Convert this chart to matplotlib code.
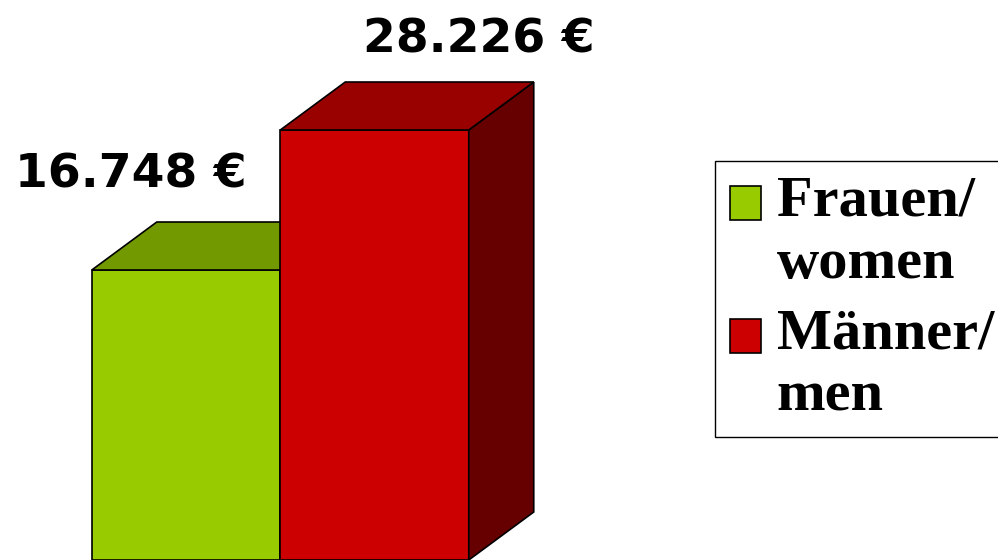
import matplotlib.pyplot as plt
from matplotlib.patches import Patch, Polygon, Rectangle
from matplotlib.legend_handler import HandlerPatch

# data
categories = ['Frauen/\nwomen', 'Männer/\nmen']
values = [16748, 28226]
value_labels = ['16.748 €', '28.226 €']
front_colors = ['#99CC00', '#CC0000']
top_colors = ['#739900', '#990000']
side_colors = ['#567300', '#660000']

# look
bar_width = 1.0
depth_px = (65, 48)          # 3d depth of the bars, in pixels
label_offsets = [(-55, 83), (104, 78)]   # label baseline offset from bar top, pixels
y_floor = -7028              # visible bottom of the value axis (chart is cropped)
y_ceil = 38885
legend_size = 42
legend_linespacing = 1.25


def draw_3d_bars(ax, x, heights):
    bars = ax.bar(x, [h - y_floor for h in heights], bottom=y_floor,
                  width=bar_width, color=front_colors, edgecolor='black',
                  linewidth=1.2, zorder=2)
    inv = ax.transData.inverted()
    for i, bar in enumerate(bars):
        x0, y0 = bar.get_x(), bar.get_y()
        x1, y1 = x0 + bar.get_width(), y0 + bar.get_height()
        # convert depth in pixels into data units at this bar
        px, py = ax.transData.transform((x1, y1))
        dx, dy = inv.transform((px + depth_px[0], py + depth_px[1])) - (x1, y1)
        top = Polygon([(x0, y1), (x0 + dx, y1 + dy), (x1 + dx, y1 + dy), (x1, y1)],
                      closed=True, facecolor=top_colors[i], edgecolor='black',
                      linewidth=1.2, zorder=2 + i)
        side = Polygon([(x1, y0), (x1 + dx, y0 + dy), (x1 + dx, y1 + dy), (x1, y1)],
                       closed=True, facecolor=side_colors[i], edgecolor='black',
                       linewidth=1.2, zorder=2 + i)
        ax.add_patch(side)
        ax.add_patch(top)
        bar.set_zorder(2 + i)
    return bars


def first_line_square(legend, orig_handle, xdescent, ydescent, width, height, fontsize):
    # put the square next to the first line of a two-line label
    shift = legend_linespacing * fontsize * 0.40
    return Rectangle((-xdescent, -ydescent + shift), width, height)


fig = plt.figure(figsize=(9.98, 5.6), dpi=100)
ax = fig.add_axes([0, 0, 1, 1])
ax.set_xlim(-0.987, 4.308)
ax.set_ylim(y_floor, y_ceil)
ax.axis('off')

x = list(range(len(categories)))
bars = draw_3d_bars(ax, x, values)

for bar, text, off in zip(bars, value_labels, label_offsets):
    ax.annotate(text, (bar.get_x() + bar.get_width() / 2, bar.get_y() + bar.get_height()),
                xytext=off, textcoords='offset pixels', ha='center', va='baseline',
                fontsize=34, fontweight='bold', family='DejaVu Sans')

handles = [Patch(facecolor=c, edgecolor='black', linewidth=1.2) for c in front_colors]
leg = fig.legend(handles, categories, loc='upper left',
                 bbox_to_anchor=(715 / 998, 1 - 161 / 560),
                 bbox_transform=fig.transFigure, borderaxespad=0,
                 prop={'family': 'Liberation Serif', 'weight': 'bold', 'size': legend_size},
                 handlelength=0.53, handleheight=0.53, handletextpad=0.28,
                 borderpad=0.25, labelspacing=0.33, fancybox=False,
                 edgecolor='black', framealpha=1,
                 handler_map={Patch: HandlerPatch(patch_func=first_line_square)})
leg.get_frame().set_linewidth(1.0)
for t in leg.get_texts():
    t.set_linespacing(legend_linespacing)

fig.savefig('out.png', dpi=100)
